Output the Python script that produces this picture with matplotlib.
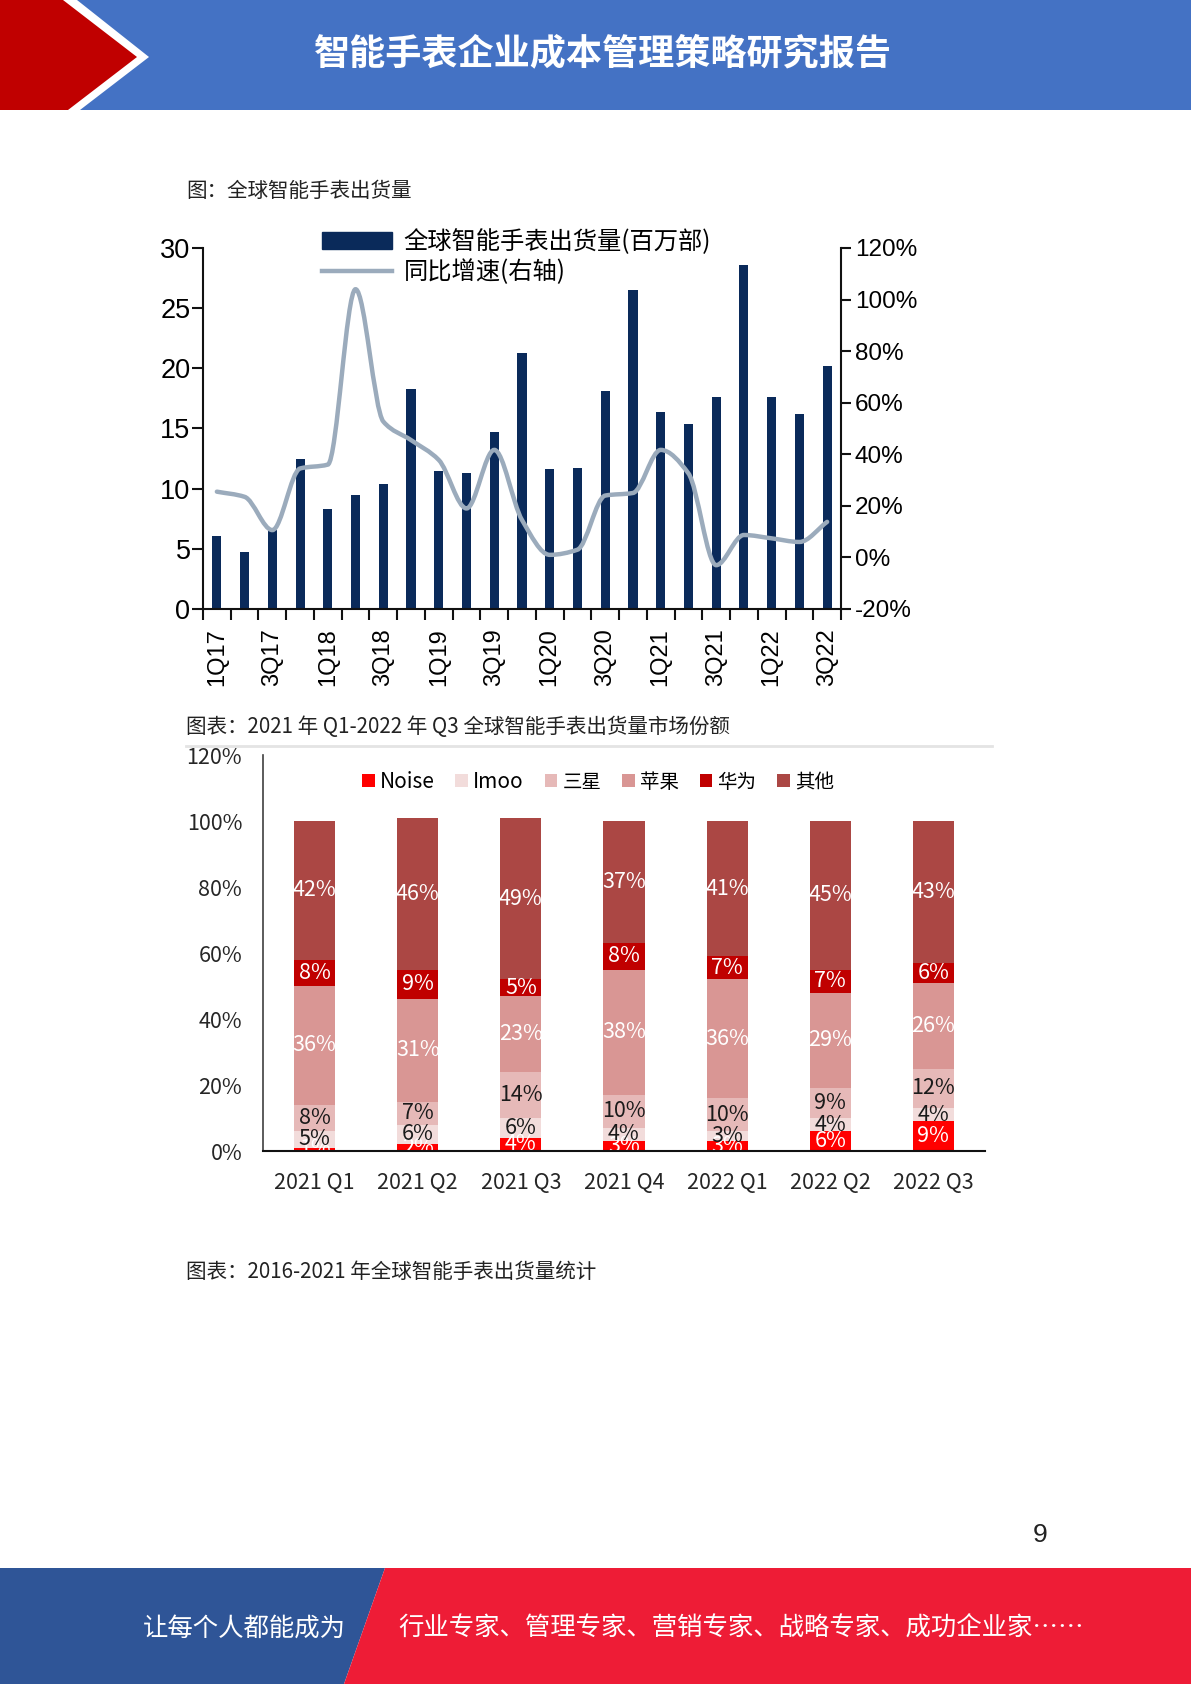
import numpy as np
import matplotlib
matplotlib.use('Agg')
import matplotlib.pyplot as plt
from matplotlib.patches import Polygon, Patch, PathPatch
from matplotlib.lines import Line2D
from matplotlib.path import Path

plt.rcParams['font.family'] = ['Noto Sans CJK SC', 'DejaVu Sans']

W, H = 1191, 1684

# ---- chart 1: global smartwatch shipments (million units) + YoY growth
quarters = ['1Q17', '2Q17', '3Q17', '4Q17', '1Q18', '2Q18', '3Q18', '4Q18',
            '1Q19', '2Q19', '3Q19', '4Q19', '1Q20', '2Q20', '3Q20', '4Q20',
            '1Q21', '2Q21', '3Q21', '4Q21', '1Q22', '2Q22', '3Q22']
shipments = [6.1, 4.7, 6.6, 12.5, 8.3, 9.5, 10.4, 18.3, 11.5, 11.3, 14.7, 21.3,
             11.6, 11.7, 18.1, 26.5, 16.4, 15.4, 17.6, 28.6, 17.6, 16.2, 20.2]
yoy = [25.5, 23.5, 10.6, 34.5, 36.0, 104.0, 52.7, 45.5, 37.8, 19.0, 41.7, 14.5,
       1.0, 3.0, 24.0, 25.0, 41.7, 32.6, -3.0, 8.7, 7.4, 6.0, 13.8]

# ---- chart 2: market share by brand, 2021 Q1 - 2022 Q3
periods = ['2021 Q1', '2021 Q2', '2021 Q3', '2021 Q4', '2022 Q1', '2022 Q2', '2022 Q3']
brands = ['Noise', 'Imoo', '三星', '苹果', '华为', '其他']
noise = [1, 2, 4, 3, 3, 6, 9]
imoo = [5, 6, 6, 4, 3, 4, 4]
samsung = [8, 7, 14, 10, 10, 9, 12]
apple = [36, 31, 23, 38, 36, 29, 26]
huawei = [8, 9, 5, 8, 7, 7, 6]
others = [42, 46, 49, 37, 41, 45, 43]

BRAND_COLORS = ['#FF0000', '#F2DCDB', '#E6B9B8', '#D99694', '#C00000', '#AB4744']
LABEL_COLORS = ['white', '#1A1A1A', '#1A1A1A', 'white', 'white', 'white']


def fx(x):
    return x / W


def fy(y):
    return 1 - y / H


def smooth_path(xs, ys):
    # monotone (Fritsch-Carlson) cubic through the data points, as bezier segments
    xs = np.asarray(xs, dtype=float)
    ys = np.asarray(ys, dtype=float)
    n = len(xs)
    d = np.diff(ys) / np.diff(xs)
    m = np.zeros(n)
    m[0], m[-1] = d[0], d[-1]
    for k in range(1, n - 1):
        if d[k - 1] * d[k] > 0:
            m[k] = 2 / (1 / d[k - 1] + 1 / d[k])
    verts, codes = [(xs[0], ys[0])], [Path.MOVETO]
    for i in range(n - 1):
        h = xs[i + 1] - xs[i]
        verts += [(xs[i] + h / 3, ys[i] + m[i] * h / 3),
                  (xs[i + 1] - h / 3, ys[i + 1] - m[i + 1] * h / 3),
                  (xs[i + 1], ys[i + 1])]
        codes += [Path.CURVE4] * 3
    return Path(verts, codes)


fig = plt.figure(figsize=(W / 100, H / 100), dpi=100)

# page decoration: header, footer
bg = fig.add_axes([0, 0, 1, 1])
bg.set_xlim(0, W)
bg.set_ylim(H, 0)
bg.axis('off')
bg.add_patch(Polygon([(0, 0), (W, 0), (W, 110), (0, 110)], color='#4472C4', lw=0))
bg.add_patch(Polygon([(0, 0), (77, 0), (149, 57), (80, 110), (0, 110)], color='white', lw=0))
bg.add_patch(Polygon([(0, 0), (63, 0), (137, 57), (68, 110), (0, 110)], color='#C00000', lw=0))
bg.text(603, 54, '智能手表企业成本管理策略研究报告', color='white', fontsize=26,
        fontweight='bold', ha='center', va='center')

bg.add_patch(Polygon([(0, 1568), (385, 1568), (344, H), (0, H)], color='#2F5597', lw=0))
bg.add_patch(Polygon([(385, 1568), (W, 1568), (W, H), (344, H)], color='#EE1C36', lw=0))
bg.text(143, 1629, '让每个人都能成为', color='white', fontsize=18.3, va='center')
bg.text(398, 1629, '行业专家、管理专家、营销专家、战略专家、成功企业家……', color='white',
        fontsize=18.3, va='center')
bg.text(1040, 1535, '9', fontsize=19, ha='center', va='center', color='#222222',
        family='Liberation Sans')

bg.text(186, 191, '图：全球智能手表出货量', fontsize=14.8, va='center', color='#222222')
bg.text(186, 727, '图表：2021 年 Q1-2022 年 Q3 全球智能手表出货量市场份额', fontsize=14.8,
        va='center', color='#222222')
bg.text(186, 1272, '图表：2016-2021 年全球智能手表出货量统计', fontsize=14.8,
        va='center', color='#222222')
bg.plot([186, 992], [746, 746], color='#E4E4E4', lw=2)

# ---- chart 1
ax = fig.add_axes([fx(203), fy(609), fx(841) - fx(203), (609 - 248) / H])
ax.set_facecolor('none')
x = np.arange(len(quarters)) + 0.5
ax.bar(x, shipments, width=0.33, color='#0A2A5A', zorder=2)
ax.set_xlim(0, len(quarters))
ax.set_ylim(0, 30)
ax.set_yticks([0, 5, 10, 15, 20, 25, 30])
ax.set_xticks(np.arange(len(quarters) + 1))
ax.set_xticklabels([])
ax.set_xticks(x[::2], quarters[::2], minor=True)
ax.tick_params(axis='x', which='major', length=8, width=1.5, color='#111111')
ax.tick_params(axis='x', which='minor', length=0, pad=14, labelsize=17, rotation=90)
ax.tick_params(axis='y', length=8, width=1.5, pad=1, labelsize=19.5, color='#111111')
for lab in ax.get_xticklabels(minor=True) + ax.get_yticklabels():
    lab.set_family('Liberation Sans')
for s in ['top', 'right']:
    ax.spines[s].set_visible(False)
for s in ['left', 'bottom']:
    ax.spines[s].set_linewidth(1.5)
    ax.spines[s].set_color('#111111')

ax2 = ax.twinx()
ax2.set_ylim(-20, 120)
ax2.set_yticks(range(-20, 121, 20))
ax2.set_yticklabels([f'{v}%' for v in range(-20, 121, 20)])
ax2.add_patch(PathPatch(smooth_path(x, yoy), fill=False, edgecolor='#9BABBC',
                        lw=3.2, capstyle='round', zorder=3))
ax2.tick_params(axis='y', length=7, width=1.5, pad=3, labelsize=17.5, color='#111111')
for lab in ax2.get_yticklabels():
    lab.set_family('Liberation Sans')
for s in ['top', 'left', 'bottom']:
    ax2.spines[s].set_visible(False)
ax2.spines['right'].set_linewidth(1.5)
ax2.spines['right'].set_color('#111111')

handles = [Patch(color='#0A2A5A'), Line2D([], [], color='#9BABBC', lw=3.2)]
ax2.legend(handles, ['全球智能手表出货量(百万部)', '同比增速(右轴)'], loc='upper left',
           bbox_to_anchor=(fx(322), fy(229)), bbox_transform=fig.transFigure,
           frameon=False, fontsize=17.5, handlelength=2.9, handleheight=0.7,
           handletextpad=0.45, labelspacing=0.18, borderpad=0, borderaxespad=0)

# ---- chart 2
cx = fig.add_axes([fx(263), fy(1151), fx(985) - fx(263), (1151 - 755) / H])
cx.set_facecolor('none')
series = [noise, imoo, samsung, apple, huawei, others]
pos = np.arange(len(periods))
bottom = np.zeros(len(periods))
for vals, name, col, tcol in zip(series, brands, BRAND_COLORS, LABEL_COLORS):
    vals = np.array(vals, dtype=float)
    cx.bar(pos, vals, bottom=bottom, width=0.4, color=col, label=name, zorder=2)
    for xi, b, v in zip(pos, bottom, vals):
        cx.text(xi, b + v / 2, f'{int(v)}%', ha='center', va='center', color=tcol,
                fontsize=15.5, zorder=3, clip_on=True)
    bottom += vals

cx.set_xlim(-0.5, len(periods) - 0.5)
cx.set_ylim(0, 120)
cx.set_yticks(range(0, 121, 20))
cx.set_yticklabels([f'{v}%' for v in range(0, 121, 20)])
cx.set_xticks(pos, periods)
cx.tick_params(axis='y', length=0, pad=15, labelsize=15.5, labelcolor='#262626')
cx.tick_params(axis='x', length=0, pad=15, labelsize=15.5, labelcolor='#262626')
for s in ['top', 'right']:
    cx.spines[s].set_visible(False)
cx.spines['left'].set_color('#404040')
cx.spines['left'].set_linewidth(1.2)
cx.spines['bottom'].set_color('#111111')
cx.spines['bottom'].set_linewidth(1.5)
cx.spines['bottom'].set_zorder(4)

leg = cx.legend(loc='center left', bbox_to_anchor=(fx(362), fy(782)),
                bbox_transform=fig.transFigure, ncol=6, frameon=False, fontsize=15,
                handlelength=0.6, handleheight=0.6, handletextpad=0.25,
                columnspacing=1.0, borderpad=0, borderaxespad=0)
for t in leg.get_texts()[2:]:
    t.set_fontsize(14)

fig.savefig('out.png', dpi=100)
